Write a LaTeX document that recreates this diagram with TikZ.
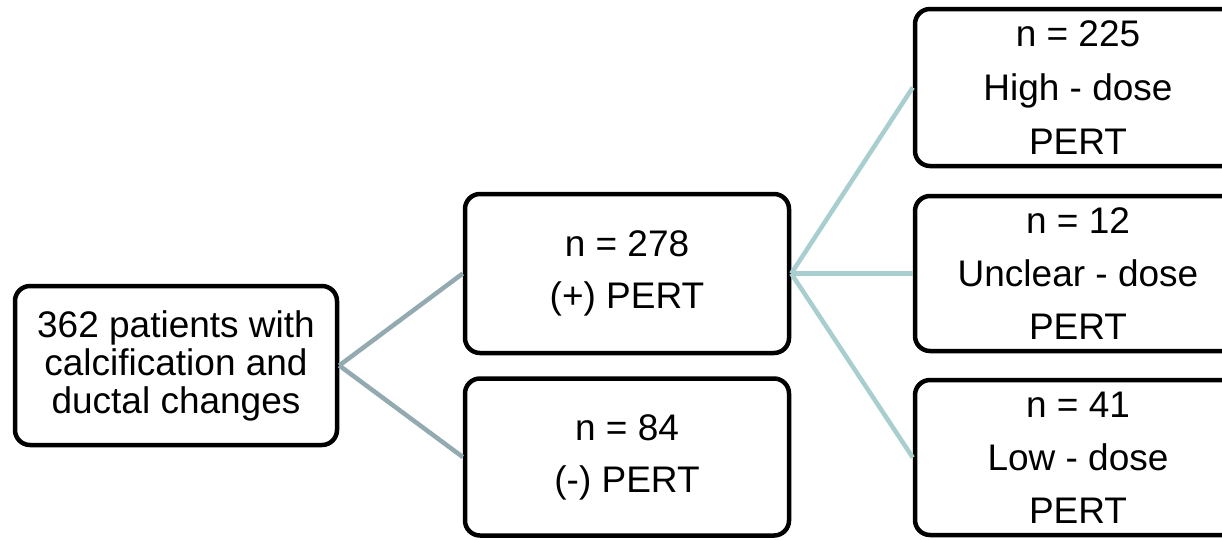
\documentclass[tikz,border=0pt]{standalone}
\usepackage{fontspec}
\setmainfont{Liberation Sans}
\definecolor{linkA}{RGB}{146,170,176}
\definecolor{linkB}{RGB}{168,206,207}
\begin{document}
\begin{tikzpicture}[x=1pt,y=-1pt,
  box/.style={draw=black,line width=4.5pt,rounded corners=15pt,fill=white,
    align=center,inner sep=0pt,text=black},
  lnA/.style={draw=linkA,line width=4.5pt},
  lnB/.style={draw=linkB,line width=4.5pt}]
\clip (0,0) rectangle (1222,539);
\fill[white] (0,0) rectangle (1222,539);
\node[box,minimum width=322pt,minimum height=159pt,font=\fontsize{37}{38}\selectfont] (root) at (176,365.5)
  {362 patients with\\calcification and\\ductal changes};
\node[box,minimum width=324pt,minimum height=159pt,font=\fontsize{37}{52}\selectfont] (pos) at (627,273.5)
  {n = 278\\(+) PERT};
\node[box,minimum width=324pt,minimum height=157pt,font=\fontsize{37}{52}\selectfont] (neg) at (627,457)
  {n = 84\\(-) PERT};
\node[box,minimum width=326pt,minimum height=157pt,font=\fontsize{37}{54}\selectfont] (high) at (1078,87.5)
  {n = 225\\High - dose\\PERT};
\node[box,minimum width=326pt,minimum height=155pt,font=\fontsize{37}{53}\selectfont] (unc) at (1078,273.5)
  {n = 12\\Unclear - dose\\PERT};
\node[box,minimum width=326pt,minimum height=155pt,font=\fontsize{37}{53}\selectfont] (low) at (1078,457.5)
  {n = 41\\Low - dose\\PERT};
\draw[lnA] (root.east) -- (pos.west);
\draw[lnA] (root.east) -- (neg.west);
\draw[lnB] (pos.east) -- (high.west);
\draw[lnB] (pos.east) -- (unc.west);
\draw[lnB] (pos.east) -- (low.west);
\end{tikzpicture}
\end{document}
